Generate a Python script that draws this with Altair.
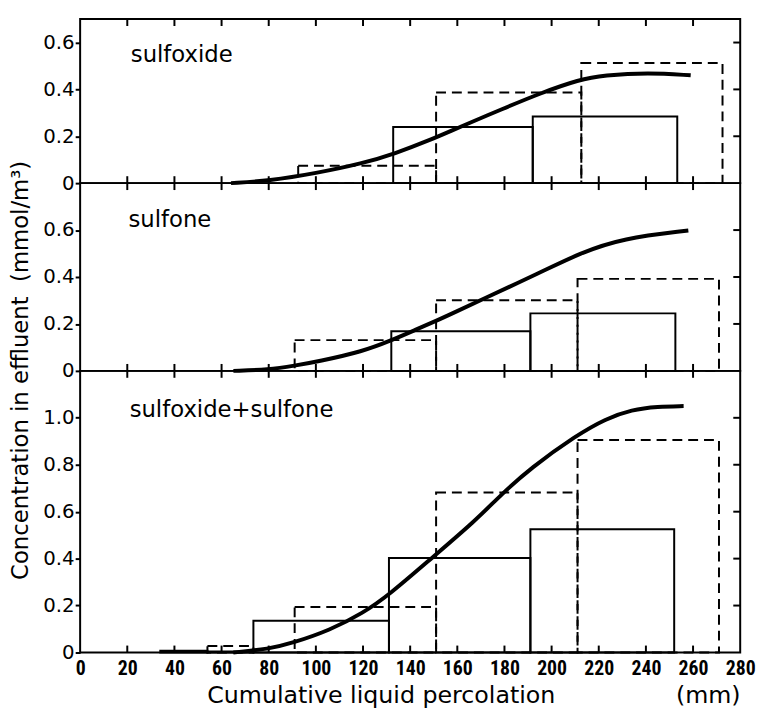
import altair as alt
import pandas as pd

# ---------------- data ----------------
PANELS = ["sulfoxide", "sulfone", "sulfoxide+sulfone"]
Y_MAX = [0.7, 0.8, 1.2]
Y_TICKS = [[0, 0.2, 0.4, 0.6], [0, 0.2, 0.4, 0.6], [0, 0.2, 0.4, 0.6, 0.8, 1.0]]
X_TICKS = list(range(0, 281, 20))

# solid-line histogram bins
SOLID_X0 = [[132.8, 192.0], [132.0, 191.0], [34.0, 54.0, 73.5, 131.0, 191.0]]
SOLID_X1 = [[192.0, 253.3], [191.0, 252.5], [54.0, 73.5, 131.0, 191.0, 252.0]]
SOLID_Y = [[0.24, 0.284], [0.169, 0.245], [0.008, 0.004, 0.135, 0.403, 0.525]]

# dashed-line histogram bins
DASH_X0 = [[92.5, 151.0, 212.6], [91.0, 151.0, 211.0], [54.0, 91.0, 151.0, 211.0]]
DASH_X1 = [[151.0, 212.6, 272.5], [151.0, 211.0, 271.0], [73.5, 151.0, 211.0, 271.0]]
DASH_Y = [[0.074, 0.387, 0.513], [0.131, 0.301, 0.392], [0.028, 0.194, 0.682, 0.905]]

# smooth curves
CURVE_X = [
    [64, 80, 100, 120, 133, 150, 160, 180, 195, 212, 222, 241, 259],
    [65, 80, 91, 101, 120, 132, 142.5, 151, 159, 170, 195, 212, 230, 258],
    [65, 80, 90, 106, 120, 131, 149.4, 167.5, 178.6, 191, 210.6, 223, 234, 245, 256],
]
CURVE_Y = [
    [0, 0.01, 0.042, 0.085, 0.124, 0.19, 0.235, 0.32, 0.383, 0.443, 0.46, 0.472, 0.46],
    [0, 0.005, 0.022, 0.04, 0.083, 0.13, 0.176, 0.213, 0.25, 0.302, 0.418, 0.502, 0.565, 0.598],
    [0, 0.015, 0.04, 0.095, 0.168, 0.245, 0.405, 0.56, 0.673, 0.785, 0.926, 0.996, 1.035, 1.048, 1.05],
]

LABEL_X = [21.5, 20.5, 21.0]
LABEL_Y = [0.515, 0.612, 1.003]

X_TITLE = "Cumulative liquid percolation" + "\u00a0" * 16 + "(mm)"
Y_TITLE = "Concentration in effluent\u00a0\u00a0(mmol/m\u00b3)"

# ---------------- layout constants ----------------
W = 668
PX_PER_UNIT = 237.3
TICK = 7


def panel(i):
    H = round(Y_MAX[i] * PX_PER_UNIT)
    last = i == len(PANELS) - 1
    xs = alt.Scale(domain=[0, 280], nice=False, zero=False)
    ys = alt.Scale(domain=[0, Y_MAX[i]], nice=False)

    if last:
        xaxis = alt.Axis(values=X_TICKS, ticks=False, domain=False, grid=False,
                         labelFont="'Liberation Sans Narrow', 'Roboto Condensed', 'DejaVu Sans Condensed', 'Liberation Sans', sans-serif",
                         labelFontSize=20, labelFontWeight="bold", labelPadding=6,
                         labelColor="black", labelOverlap=False, labelFlush=False,
                         title=X_TITLE, titleFont="DejaVu Sans", titleFontSize=24,
                         titleFontWeight="normal", titleColor="black",
                         titleX=398, titleY=51, titleAlign="center",
                         titleBaseline="alphabetic")
    else:
        xaxis = None

    yargs = dict(values=Y_TICKS[i], tickSize=5, tickWidth=2, tickColor="black",
                 domain=False, grid=False, labelFont="DejaVu Sans", labelFontSize=20,
                 labelColor="black", labelPadding=1,
                 labelExpr="datum.value == 0 ? '0' : format(datum.value, '.1f')")
    if i == 1:
        yaxis = alt.Axis(title=Y_TITLE, titleFont="DejaVu Sans", titleFontSize=23,
                         titleFontWeight="normal", titleColor="black", titleAngle=270,
                         titleX=-53, titleY=189, titleAlign="center",
                         titleBaseline="alphabetic", **yargs)
    else:
        yaxis = alt.Axis(title=None, **yargs)

    def X(f):
        return alt.X(f, type="quantitative", scale=xs, axis=xaxis)

    def Y(f):
        return alt.Y(f, type="quantitative", scale=ys, axis=yaxis)

    solid = pd.DataFrame({"x0": SOLID_X0[i], "x1": SOLID_X1[i], "top": SOLID_Y[i]})
    dash = pd.DataFrame({"x0": DASH_X0[i], "x1": DASH_X1[i], "top": DASH_Y[i]})
    curve = pd.DataFrame({"x": CURVE_X[i], "y": CURVE_Y[i]})
    lab = pd.DataFrame({"x": [LABEL_X[i]], "y": [LABEL_Y[i]], "t": [PANELS[i]]})
    xt = pd.DataFrame({"x": X_TICKS[1:-1]})
    yt = pd.DataFrame({"y": Y_TICKS[i][1:]})

    solid_l = alt.Chart(solid).mark_rect(fillOpacity=0, stroke="black", strokeWidth=2).encode(
        x=X("x0"), x2="x1", y=Y("top"), y2=alt.datum(0))
    dash_l = alt.Chart(dash).mark_rect(fillOpacity=0, stroke="black", strokeWidth=2,
                                       strokeDash=[10, 6]).encode(
        x=X("x0"), x2="x1", y=Y("top"), y2=alt.datum(0))
    curve_l = alt.Chart(curve).mark_line(color="black", strokeWidth=4,
                                         interpolate="basis").encode(x=X("x"), y=Y("y"))
    text_l = alt.Chart(lab).mark_text(align="left", baseline="alphabetic", font="DejaVu Sans",
                                      fontSize=23, color="black").encode(
        x=X("x"), y=Y("y"), text="t:N")
    top_ticks = alt.Chart(xt).mark_rule(color="black", strokeWidth=2).encode(
        x=X("x"), y=alt.value(0), y2=alt.value(TICK))
    bot_ticks = alt.Chart(xt).mark_rule(color="black", strokeWidth=2).encode(
        x=X("x"), y=alt.value(H), y2=alt.value(H - TICK))
    right_ticks = alt.Chart(yt).mark_rule(color="black", strokeWidth=2).encode(
        y=Y("y"), x=alt.value(W), x2=alt.value(W - TICK))

    return alt.layer(solid_l, dash_l, curve_l, text_l, top_ticks, bot_ticks,
                     right_ticks).properties(width=W, height=H)


chart = alt.vconcat(*[panel(i) for i in range(3)], spacing=0, bounds="flush").properties(
    padding={"left": 0, "top": 5, "right": 0, "bottom": 0}
).configure_view(stroke="black", strokeWidth=2)

chart.save("out.html", embed_options={"renderer": "svg", "actions": False})
